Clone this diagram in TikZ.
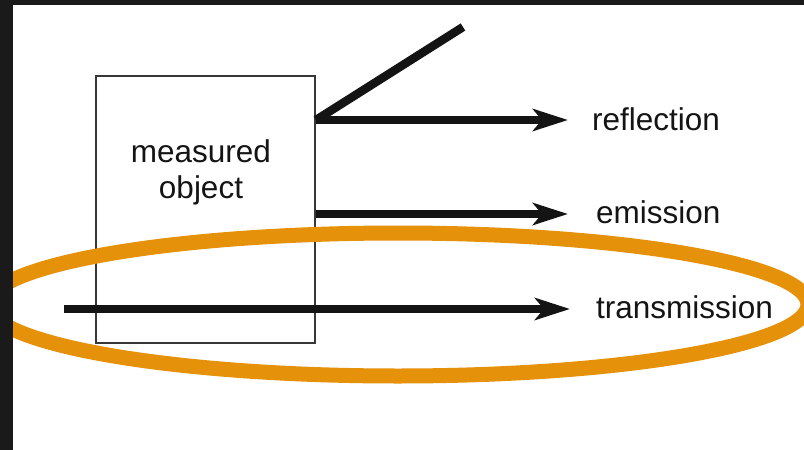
\documentclass[tikz,border=0pt]{standalone}
\usepackage{fontspec}
\setmainfont{Liberation Sans}
\usetikzlibrary{arrows.meta,shapes.geometric}
\definecolor{framecol}{RGB}{26,26,26}
\definecolor{hlcol}{RGB}{229,145,10}
\definecolor{ink}{RGB}{20,20,20}
\tikzset{
  objbox/.style={draw=ink!85, line width=2pt, minimum width=219pt, minimum height=267pt, inner sep=0pt},
  lbl/.style={font=\fontsize{31.5}{36}\selectfont, text=ink, inner sep=0pt},
  ray/.style={draw=ink, line width=8.5pt},
  arr/.style={ray, -{Stealth[length=35pt,width=22pt,inset=9pt]}},
  hlring/.style={draw=hlcol, line width=15pt, ellipse, inner sep=0pt, minimum width=820pt, minimum height=143pt}
}
\begin{document}
\begin{tikzpicture}[x=1pt,y=-1pt]
\useasboundingbox (0,0) rectangle (804,450);
\fill[white] (0,0) rectangle (804,450);
\node[objbox] (obj) at (205.5,209.5) {};
\node[lbl, align=center] (objtxt) at (201,172) {measured\\object};
\node[lbl, anchor=base west] (refl) at (592,130) {reflection};
\node[lbl, anchor=base west] (emis) at (596,223) {emission};
\node[lbl, anchor=base west] (trans) at (596,318) {transmission};
\coordinate (rin) at (obj.east |- 0,120);
\coordinate (din) at (463,27);
\coordinate (ein) at (obj.east |- 0,214);
\coordinate (tin) at (64,309);
\draw[ray] (rin) -- (din);
\draw[arr] (rin) -- (568,120);
\draw[arr] (ein) -- (568,214);
\draw[arr] (tin) -- (570,309);
\node[hlring] (hl) at (398,304.5) {};
\fill[framecol] (0,0) rectangle (13,450);
\fill[framecol] (0,0) rectangle (804,5);
\end{tikzpicture}
\end{document}
